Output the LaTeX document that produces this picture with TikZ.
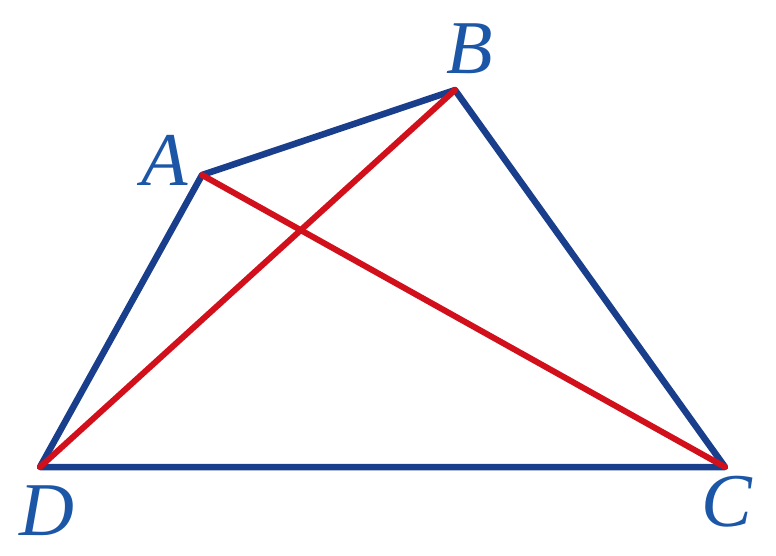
\documentclass[tikz,border=0pt]{standalone}
\usepackage{fontspec}
\setmainfont{Liberation Serif}
\newfontfamily\labfont{Liberation Serif Italic}
\begin{document}
\begin{tikzpicture}[x=1pt,y=-1pt,
  edge/.style={line width=6.5pt,draw=lineblue,line join=round,line cap=round},
  diag/.style={line width=6pt,draw=linered,line cap=round},
  lab/.style={text=labblue,font=\labfont\fontsize{76}{76}\selectfont,inner sep=0pt}]
\definecolor{lineblue}{RGB}{24,62,140}
\definecolor{linered}{RGB}{210,16,28}
\definecolor{labblue}{RGB}{28,86,166}
\useasboundingbox (0,0) rectangle (776,555);
\coordinate (A) at (202,175);
\coordinate (B) at (455,90);
\coordinate (C) at (725,467);
\coordinate (D) at (40,467);
\draw[edge] (A) -- (B) -- (C) -- (D) -- cycle;
\draw[diag] (A) -- (C);
\draw[diag] (B) -- (D);
\node[lab] (la) at (165,160) {A};
\node[lab] (lb) at (470,49) {B};
\node[lab] (lc) at (727,502) {C};
\node[lab] (ld) at (47,511) {D};
\end{tikzpicture}
\end{document}
